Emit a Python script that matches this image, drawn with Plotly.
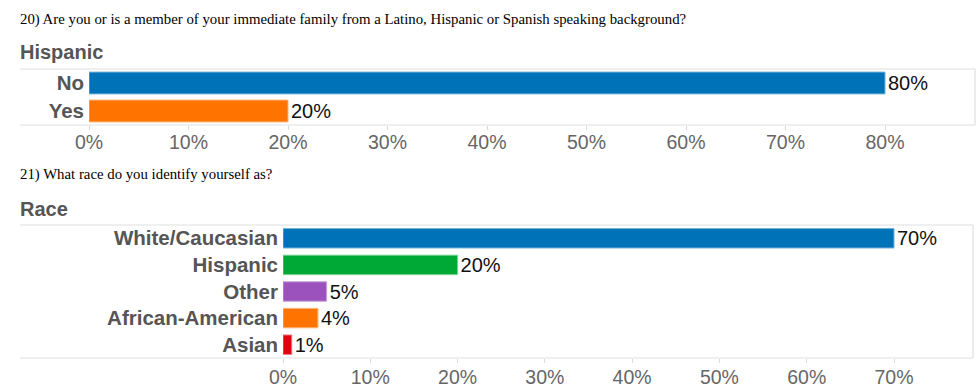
import plotly.graph_objects as go

# ---- data ----
q1_title = "20) Are you or is a member of your immediate family from a Latino, Hispanic or Spanish speaking background?"
q1_header = "Hispanic"
q1_categories = ["No", "Yes"]
q1_values = [80, 20]
q1_colors = ["#0072B8", "#FF7300"]
q1_ticks = [0, 10, 20, 30, 40, 50, 60, 70, 80]

q2_title = "21) What race do you identify yourself as?"
q2_header = "Race"
q2_categories = ["White/Caucasian", "Hispanic", "Other", "African-American", "Asian"]
q2_values = [70, 20, 5, 4, 1]
q2_colors = ["#0072B8", "#00A936", "#9B52BD", "#FF7300", "#E3000F"]
q2_ticks = [0, 10, 20, 30, 40, 50, 60, 70]

W, H = 980, 390
SANS = "Liberation Sans, Arial, sans-serif"
SERIF = "Liberation Serif, Times New Roman, serif"


def px(x):
    return x / W


def py(y):
    return 1 - y / H


def lighten(hexcol, f=0.45):
    h = hexcol.lstrip("#")
    r, g, b = int(h[0:2], 16), int(h[2:4], 16), int(h[4:6], 16)
    r = int(r + (255 - r) * f)
    g = int(g + (255 - g) * f)
    b = int(b + (255 - b) * f)
    return f"rgb({r},{g},{b})"


fig = go.Figure()

fig.add_trace(go.Bar(
    x=q1_values, y=q1_categories, orientation="h",
    marker=dict(color=q1_colors, line=dict(color=[lighten(c) for c in q1_colors], width=1)),
    width=0.78,
    text=[f"{v}%" for v in q1_values], textposition="outside", constraintext="none",
    textfont=dict(family=SANS, size=20, color="#111"),
    cliponaxis=False, xaxis="x", yaxis="y", hoverinfo="skip",
))

fig.add_trace(go.Bar(
    x=q2_values, y=q2_categories, orientation="h",
    marker=dict(color=q2_colors, line=dict(color=[lighten(c) for c in q2_colors], width=1)),
    width=0.73,
    text=[f"{v}%" for v in q2_values], textposition="outside", constraintext="none",
    textfont=dict(family=SANS, size=20, color="#111"),
    cliponaxis=False, xaxis="x2", yaxis="y2", hoverinfo="skip",
))

# panel geometry (pixels)
p1 = dict(left=89, right=975, top=69, bottom=125, outer=20)
p2 = dict(left=283, right=973, top=225, bottom=358, outer=20)

r1 = (p1["right"] - p1["left"]) / ((885 - 89) / 80)
r2 = (p2["right"] - p2["left"]) / ((894 - 283) / 70)

xcommon = dict(
    showgrid=False, zeroline=False, showline=False, automargin=False,
    ticks="outside", ticklen=4, tickcolor="#d9d9d9", tickwidth=1,
    tickfont=dict(family=SANS, size=19.5, color="#666"),
    fixedrange=True,
)
ycommon = dict(
    showgrid=False, zeroline=False, showline=False, ticks="", automargin=False,
    tickfont=dict(family=SANS, size=20.5, color="#555", weight="bold"),
    ticklabelstandoff=4, autorange="reversed", fixedrange=True,
)

fig.update_layout(
    width=W, height=H, margin=dict(l=0, r=0, t=0, b=0, autoexpand=False),
    paper_bgcolor="white", plot_bgcolor="white", showlegend=False,
    xaxis=dict(domain=[px(p1["left"]), px(p1["right"])], range=[0, r1], ticklabelstandoff=-4,
               tickvals=q1_ticks, ticktext=[f"{t}%" for t in q1_ticks], anchor="y", **xcommon),
    yaxis=dict(domain=[py(p1["bottom"]), py(p1["top"])], anchor="x", **ycommon),
    xaxis2=dict(domain=[px(p2["left"]), px(p2["right"])], range=[0, r2], ticklabelstandoff=-2,
                tickvals=q2_ticks, ticktext=[f"{t}%" for t in q2_ticks], anchor="y2", **xcommon),
    yaxis2=dict(domain=[py(p2["bottom"]), py(p2["top"])], anchor="x2", **ycommon),
)

shapes = []
for p in (p1, p2):
    for yy in (p["top"], p["bottom"]):
        shapes.append(dict(type="line", xref="paper", yref="paper",
                           x0=px(p["outer"]), x1=px(p["right"]), y0=py(yy), y1=py(yy),
                           line=dict(color="#e0e0e0", width=1.2)))
    shapes.append(dict(type="line", xref="paper", yref="paper",
                       x0=px(p["right"]), x1=px(p["right"]), y0=py(p["top"]), y1=py(p["bottom"]),
                       line=dict(color="#e0e0e0", width=1.2)))
fig.update_layout(shapes=shapes)

annotations = [
    dict(text=q1_title, x=px(18), y=py(19), xref="paper", yref="paper",
         xanchor="left", yanchor="middle", showarrow=False,
         font=dict(family=SERIF, size=14.8, color="#000")),
    dict(text=q1_header, x=px(18), y=py(52), xref="paper", yref="paper",
         xanchor="left", yanchor="middle", showarrow=False,
         font=dict(family=SANS, size=20, color="#555", weight="bold")),
    dict(text=q2_title, x=px(18), y=py(175), xref="paper", yref="paper",
         xanchor="left", yanchor="middle", showarrow=False,
         font=dict(family=SERIF, size=14.8, color="#000")),
    dict(text=q2_header, x=px(18), y=py(209), xref="paper", yref="paper",
         xanchor="left", yanchor="middle", showarrow=False,
         font=dict(family=SANS, size=20, color="#555", weight="bold")),
]
fig.update_layout(annotations=annotations)

fig.write_html("out.html", config={"displayModeBar": False},
               post_script="document.body.style.margin='0px';document.body.style.overflow='hidden';")
